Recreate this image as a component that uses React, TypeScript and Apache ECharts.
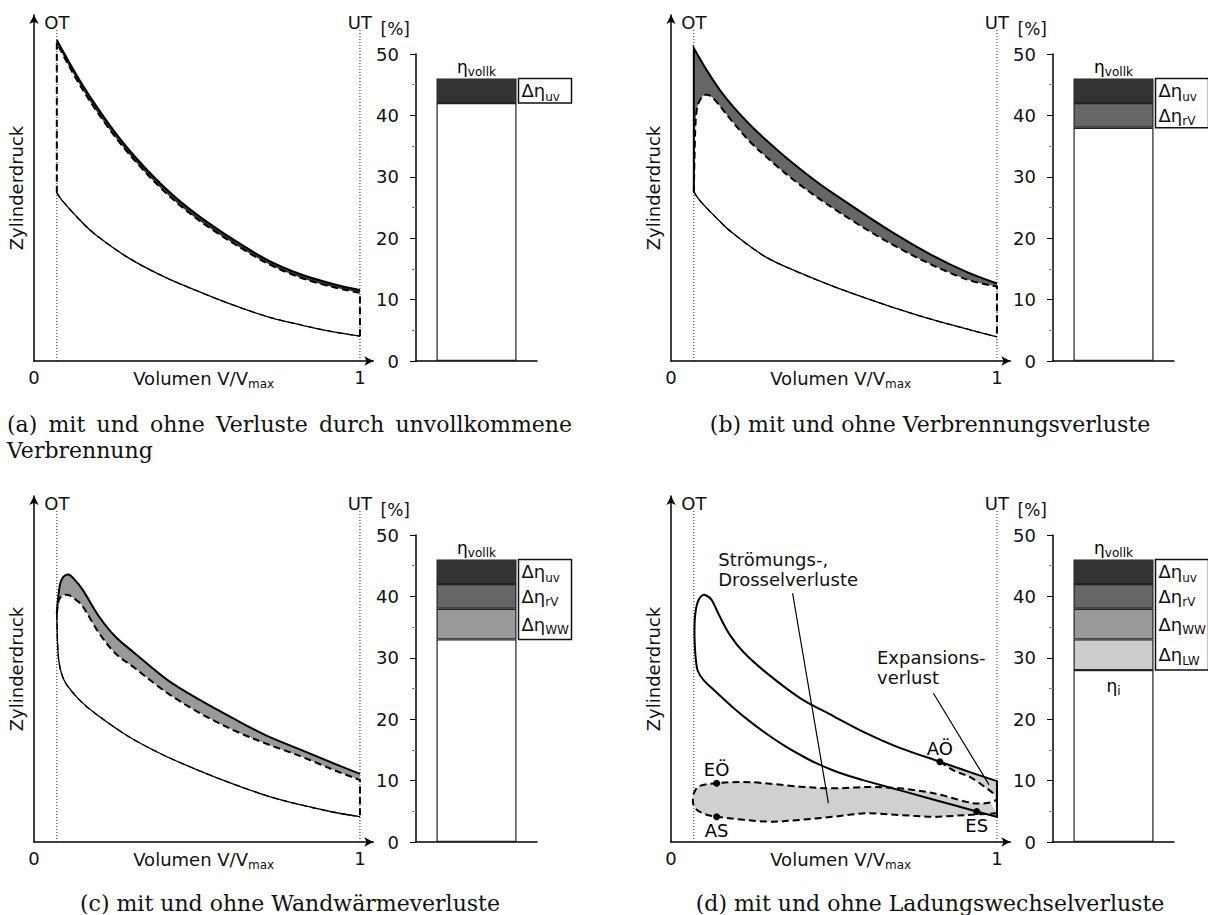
import React, { useEffect, useRef } from 'react';
import * as echarts from 'echarts';

// ---------------- shared ----------------
const FONT = '"DejaVu Sans", Verdana, sans-serif';
const SERIF = '"DejaVu Serif", serif';
const V_OT = 0.07;
const V_UT = 1.0;
const GUIDE_TOP = 96.2;

// ---------------- (a) unvollkommene Verbrennung ----------------
const aCompV = [0.07, 0.09, 0.14, 0.19, 0.29, 0.40, 0.51, 0.61, 0.72, 0.82, 0.92, 1.0];
const aCompP = [48.6, 46.0, 40.8, 36.4, 29.8, 24.3, 19.9, 16.2, 12.7, 10.4, 8.4, 7.2];
const aExpV = [0.07, 0.11, 0.15, 0.19, 0.24, 0.29, 0.35, 0.40, 0.45, 0.51, 0.61, 0.72, 0.82, 0.92, 1.0];
const aExpP = [92.8, 86.0, 79.6, 73.8, 67.2, 61.2, 54.9, 50.2, 46.0, 41.6, 35.2, 29.0, 25.0, 22.2, 20.5];
const aExpLossP = [91.9, 84.8, 78.3, 72.5, 65.9, 60.0, 53.7, 49.0, 44.8, 40.4, 34.1, 28.0, 24.0, 21.3, 19.7];

// ---------------- (b) Verbrennungsverluste ----------------
const bCompV = [0.07, 0.09, 0.14, 0.19, 0.29, 0.40, 0.50, 0.60, 0.70, 0.80, 0.91, 1.0];
const bCompP = [48.9, 46.2, 41.3, 36.9, 30.1, 25.3, 21.5, 18.1, 14.9, 12.0, 9.2, 7.0];
const bExpV = [0.07, 0.11, 0.15, 0.19, 0.24, 0.29, 0.35, 0.40, 0.45, 0.50, 0.60, 0.70, 0.80, 0.91, 1.0];
const bExpP = [90.4, 84.0, 78.3, 73.6, 68.5, 64.0, 59.0, 55.2, 51.6, 48.3, 42.0, 36.0, 30.6, 25.6, 22.4];
const bBurnV = [0.07, 0.074, 0.079, 0.089, 0.104, 0.13, 0.19, 0.24, 0.29, 0.35, 0.40, 0.45, 0.50, 0.60, 0.70, 0.80, 0.91, 1.0];
const bBurnP = [48.9, 65.9, 72.5, 75.4, 76.9, 75.9, 69.0, 63.6, 59.2, 54.3, 50.6, 47.2, 44.0, 38.0, 32.6, 27.8, 23.5, 21.5];

// ---------------- (c) Wandwärmeverluste ----------------
const cCompV = [0.07, 0.072, 0.076, 0.085, 0.10, 0.14, 0.19, 0.29, 0.40, 0.51, 0.61, 0.72, 0.82, 0.92, 1.0];
const cCompP = [66.0, 58.0, 52.5, 48.5, 45.5, 41.0, 37.0, 30.5, 25.0, 20.5, 16.8, 13.2, 10.7, 8.6, 7.3];
const cExpV = [0.07, 0.074, 0.08, 0.09, 0.105, 0.12, 0.15, 0.20, 0.25, 0.31, 0.41, 0.51, 0.61, 0.71, 0.82, 0.92, 1.0];
const cExpP = [66.0, 70.5, 74.5, 76.6, 77.3, 76.3, 72.8, 65.1, 59.3, 54.5, 46.8, 41.0, 35.8, 30.9, 26.6, 22.7, 19.7];
const cWallV = [0.07, 0.073, 0.078, 0.09, 0.105, 0.12, 0.15, 0.20, 0.25, 0.31, 0.41, 0.51, 0.61, 0.71, 0.82, 0.92, 1.0];
const cWallP = [66.0, 68.5, 70.3, 71.3, 71.4, 70.6, 68.0, 60.3, 54.5, 50.2, 43.0, 37.2, 32.4, 28.5, 24.7, 20.8, 17.9];

// ---------------- (d) Ladungswechselverluste ----------------
const dLoopV = [1.0, 0.938, 0.804, 0.70, 0.60, 0.549, 0.50, 0.447, 0.40, 0.345, 0.294, 0.24, 0.19, 0.14, 0.10, 0.082, 0.076, 0.073, 0.072, 0.074, 0.080, 0.090, 0.104, 0.125, 0.150, 0.181, 0.222, 0.294, 0.396, 0.498, 0.600, 0.702, 0.825, 0.917, 1.0];
const dLoopP = [7.3, 8.8, 12.3, 15.0, 17.6, 19.0, 20.6, 22.7, 25.0, 28.0, 31.2, 35.0, 38.9, 43.2, 46.8, 49.5, 53.0, 57.0, 61.0, 65.5, 68.8, 70.8, 71.4, 69.9, 65.1, 59.8, 54.9, 48.8, 41.6, 36.4, 31.4, 27.2, 23.2, 20.2, 17.6];
const dExpLossV = [0.825, 0.871, 0.917, 0.963, 0.994, 1.0];
const dExpLossP = [23.2, 20.5, 18.8, 15.9, 13.6, 12.4];
const dExhaustV = [0.979, 0.943, 0.907, 0.805, 0.702, 0.600, 0.498, 0.396, 0.242, 0.140, 0.089, 0.0706, 0.067];
const dExhaustP = [11.4, 11.1, 11.6, 14.1, 15.5, 15.9, 15.5, 16.0, 17.3, 17.0, 16.2, 14.2, 12.1];
const dIntakeV = [0.0706, 0.089, 0.140, 0.294, 0.396, 0.498, 0.600, 0.702, 0.805, 0.907, 1.0];
const dIntakeP = [10.4, 8.7, 7.3, 5.9, 6.4, 7.3, 8.3, 7.8, 7.3, 7.8, 8.3];
const dMarkV = [0.140, 0.140, 0.825, 0.938];
const dMarkP = [17.0, 7.3, 23.2, 8.8];
const dMarkNames = ['EÖ', 'AS', 'AÖ', 'ES'];
const dMarkLabelPos = ['top', 'bottom', 'top', 'bottom'];
const dFlowText = ['Strömungs-,', 'Drosselverluste'];
const dFlowTextAt = [0.145, 84.4];
const dFlowArrow = [[0.373, 71.9], [0.483, 11.2]];
const dExpText = ['Expansions-', 'verlust'];
const dExpTextAt = [0.632, 56.1];
const dExpArrow = [[0.805, 43.0], [0.976, 16.5]];

// ---------------- bars: Wirkungsgrade [%] ----------------
const etaI = [42, 38, 33, 28];
const dEtaUV = [4, 4, 4, 4];
const dEtaRV = [null, 4, 4, 4];
const dEtaWW = [null, null, 5, 5];
const dEtaLW = [null, null, null, 5];
const lossKeys = ['LW', 'WW', 'rV', 'uv'];
const lossColors = ['#cccccc', '#999999', '#666666', '#333333'];

const captionA1 = '(a) mit und ohne Verluste durch unvollkommene';
const captionA2 = 'Verbrennung';
const captionB = '(b) mit und ohne Verbrennungsverluste';
const captionC = '(c) mit und ohne Wandwärmeverluste';
const captionD = '(d) mit und ohne Ladungswechselverluste';

// ---------------- layout ----------------
const PV_GRIDS = [
  { left: 34, top: 15 }, { left: 671, top: 15 }, { left: 34, top: 496 }, { left: 671, top: 496 },
];
const BAR_GRIDS = [
  { left: 416, top: 54 }, { left: 1053, top: 54 }, { left: 416, top: 535 }, { left: 1053, top: 535 },
];

type Piece = { pts: number[][]; smooth: boolean };
type Shape = { pieces: Piece[]; closed?: boolean; style: any };

const zip = (v: number[], p: number[]) => v.map((x, i) => [x, p[i]]);
const rev = (a: number[][]) => a.slice().reverse();
const fmt = (pt: number[]) => pt[0].toFixed(2) + ',' + pt[1].toFixed(2);

function buildPath(pieces: Piece[], closed: boolean): string {
  let d = '';
  pieces.forEach((pc, k) => {
    const p = pc.pts;
    if (!p.length) return;
    d += (k === 0 ? 'M' : 'L') + fmt(p[0]);
    if (pc.smooth && p.length > 2) {
      for (let i = 0; i < p.length - 1; i++) {
        const p0 = p[Math.max(i - 1, 0)], p1 = p[i], p2 = p[i + 1], p3 = p[Math.min(i + 2, p.length - 1)];
        const c1 = [p1[0] + (p2[0] - p0[0]) / 6, p1[1] + (p2[1] - p0[1]) / 6];
        const c2 = [p2[0] - (p3[0] - p1[0]) / 6, p2[1] - (p3[1] - p1[1]) / 6];
        d += 'C' + fmt(c1) + ' ' + fmt(c2) + ' ' + fmt(p2);
      }
    } else {
      for (let i = 1; i < p.length; i++) d += 'L' + fmt(p[i]);
    }
  });
  if (closed) d += 'Z';
  return d;
}

const SOLID = { fill: 'none', stroke: '#000', lineWidth: 2 };
const DASH = { fill: 'none', stroke: '#000', lineWidth: 2, lineDash: [7, 4] };
const THIN = { fill: 'none', stroke: '#000', lineWidth: 1.3 };
const THIN_DASH = { fill: 'none', stroke: '#000', lineWidth: 1.3, lineDash: [6, 4] };
const GUIDE = { fill: 'none', stroke: '#222', lineWidth: 1, lineDash: [1, 2] };

function textEl(x: number, y: number, text: string, extra: any = {}) {
  return {
    type: 'text', x, y,
    style: {
      text, fill: '#111', font: `18px ${FONT}`,
      align: 'center', verticalAlign: 'middle', textAlign: 'center', textVerticalAlign: 'middle',
      ...extra,
    },
  };
}

function pvSeries(idx: number, shapes: Shape[], notes: { at: number[]; lines: string[] }[] = []) {
  return {
    type: 'custom',
    coordinateSystem: 'cartesian2d',
    xAxisIndex: idx,
    yAxisIndex: idx,
    data: [[V_OT, 0]],
    clip: false,
    silent: true,
    z: 2,
    renderItem: (_params: any, api: any) => {
      const px = (pts: number[][]) => pts.map((q) => api.coord(q));
      const guides: Shape[] = [
        { pieces: [{ pts: [[V_OT, 0], [V_OT, GUIDE_TOP]], smooth: false }], style: GUIDE },
        { pieces: [{ pts: [[V_UT, 0], [V_UT, GUIDE_TOP]], smooth: false }], style: GUIDE },
      ];
      const children: any[] = [...guides, ...shapes].map((s) => ({
        type: 'path',
        shape: { pathData: buildPath(s.pieces.map((pc) => ({ pts: px(pc.pts), smooth: pc.smooth })), !!s.closed) },
        style: s.style,
      }));
      const ot = api.coord([V_OT, GUIDE_TOP]);
      const ut = api.coord([V_UT, GUIDE_TOP]);
      children.push(textEl(ot[0], ot[1] - 6, 'OT'));
      children.push(textEl(ut[0], ut[1] - 6, 'UT'));
      notes.forEach((n) => {
        const c = api.coord(n.at);
        children.push({
          type: 'text', x: c[0], y: c[1],
          style: {
            text: n.lines.join('\n'), fill: '#111', font: `18px ${FONT}`, lineHeight: 20,
            align: 'left', verticalAlign: 'top', textAlign: 'left', textVerticalAlign: 'top',
          },
        });
      });
      return { type: 'group', children };
    },
  };
}

function buildOption() {
  const shapesA: Shape[] = [
    {
      pieces: [{ pts: zip(aExpV, aExpP), smooth: true }, { pts: rev(zip(aExpV, aExpLossP)), smooth: true }],
      closed: true, style: { fill: '#333333', stroke: 'none' },
    },
    { pieces: [{ pts: zip(aCompV, aCompP), smooth: true }], style: THIN },
    { pieces: [{ pts: zip(aCompV, aCompP), smooth: true }], style: THIN_DASH },
    { pieces: [{ pts: zip(aExpV, aExpP), smooth: true }], style: SOLID },
    {
      pieces: [
        { pts: [[V_OT, aCompP[0]], [V_OT, aExpLossP[0]]], smooth: false },
        { pts: zip(aExpV, aExpLossP), smooth: true },
        { pts: [[V_UT, aExpLossP[aExpLossP.length - 1]], [V_UT, aCompP[aCompP.length - 1]]], smooth: false },
      ],
      style: DASH,
    },
  ];

  const shapesB: Shape[] = [
    {
      pieces: [
        { pts: [[V_OT, bCompP[0]], [V_OT, bExpP[0]]], smooth: false },
        { pts: zip(bExpV, bExpP), smooth: true },
        { pts: rev(zip(bBurnV, bBurnP)), smooth: true },
      ],
      closed: true, style: { fill: '#666666', stroke: 'none' },
    },
    { pieces: [{ pts: zip(bCompV, bCompP), smooth: true }], style: THIN },
    { pieces: [{ pts: zip(bCompV, bCompP), smooth: true }], style: THIN_DASH },
    {
      pieces: [
        { pts: [[V_OT, bCompP[0]], [V_OT, bExpP[0]]], smooth: false },
        { pts: zip(bExpV, bExpP), smooth: true },
      ],
      style: SOLID,
    },
    {
      pieces: [
        { pts: zip(bBurnV, bBurnP), smooth: true },
        { pts: [[V_UT, bBurnP[bBurnP.length - 1]], [V_UT, bCompP[bCompP.length - 1]]], smooth: false },
      ],
      style: DASH,
    },
  ];

  const shapesC: Shape[] = [
    {
      pieces: [{ pts: zip(cExpV, cExpP), smooth: true }, { pts: rev(zip(cWallV, cWallP)), smooth: true }],
      closed: true, style: { fill: '#999999', stroke: 'none' },
    },
    { pieces: [{ pts: zip(cCompV, cCompP), smooth: true }], style: THIN },
    { pieces: [{ pts: zip(cCompV, cCompP), smooth: true }], style: THIN_DASH },
    { pieces: [{ pts: zip(cExpV, cExpP), smooth: true }], style: SOLID },
    {
      pieces: [
        { pts: zip(cWallV, cWallP), smooth: true },
        { pts: [[V_UT, cWallP[cWallP.length - 1]], [V_UT, cCompP[cCompP.length - 1]]], smooth: false },
      ],
      style: DASH,
    },
  ];

  const aoIdx = dLoopV.lastIndexOf(dMarkV[2]);
  const dLoop = zip(dLoopV, dLoopP);
  const dExpLoss = zip(dExpLossV, dExpLossP);
  const dExhaust = zip(dExhaustV, dExhaustP);
  const dIntake = zip(dIntakeV, dIntakeP);
  const shapesD: Shape[] = [
    { pieces: [{ pts: [...dExhaust, ...dIntake], smooth: true }], closed: true, style: { fill: '#d0d0d0', stroke: 'none' } },
    {
      pieces: [{ pts: dLoop.slice(aoIdx), smooth: true }, { pts: rev(dExpLoss), smooth: true }],
      closed: true, style: { fill: '#d0d0d0', stroke: 'none' },
    },
    { pieces: [{ pts: dLoop, smooth: true }], closed: true, style: SOLID },
    { pieces: [{ pts: [...dExpLoss, ...dExhaust, ...dIntake], smooth: true }], style: DASH },
    { pieces: [{ pts: dFlowArrow, smooth: false }], style: { fill: 'none', stroke: '#000', lineWidth: 1.2 } },
    { pieces: [{ pts: dExpArrow, smooth: false }], style: { fill: 'none', stroke: '#000', lineWidth: 1.2 } },
  ];

  const grids: any[] = [];
  const xAxes: any[] = [];
  const yAxes: any[] = [];
  const series: any[] = [];
  const axisLineStyle = { color: '#000', width: 1.5 };

  PV_GRIDS.forEach((g, i) => {
    grids.push({ left: g.left, top: g.top, width: 339.3, height: 346, containLabel: false, outerBoundsMode: 'none' });
    xAxes.push({
      type: 'value', gridIndex: i, min: 0, max: 1.041, interval: 1,
      axisLine: { show: true, onZero: false, symbol: ['none', 'arrow'], symbolSize: [7, 9], lineStyle: axisLineStyle },
      axisTick: { show: false }, splitLine: { show: false },
      axisLabel: {
        fontSize: 18, fontFamily: FONT, color: '#111', margin: 7,
        formatter: (v: number) => (v === 0 || v === 1 ? String(v) : ''),
      },
      name: '{n|Volumen V/V}{s|max}', nameLocation: 'middle', nameGap: 5, nameMoveOverlap: false,
      nameTextStyle: {
        rich: {
          n: { fontSize: 18, fontFamily: FONT, color: '#111', lineHeight: 24 },
          s: { fontSize: 12, fontFamily: FONT, color: '#111', lineHeight: 10, verticalAlign: 'bottom' },
        },
      },
    });
    yAxes.push({
      type: 'value', gridIndex: i, min: 0, max: 100,
      axisLine: { show: true, onZero: false, symbol: ['none', 'arrow'], symbolSize: [7, 9], lineStyle: axisLineStyle },
      axisTick: { show: false }, axisLabel: { show: false }, splitLine: { show: false },
      name: 'Zylinderdruck', nameLocation: 'middle', nameGap: 9, nameRotate: 90, nameMoveOverlap: false,
      nameTextStyle: { fontSize: 18, fontFamily: FONT, color: '#111' },
    });
  });

  BAR_GRIDS.forEach((g, i) => {
    const gi = 4 + i;
    grids.push({ left: g.left, top: g.top, width: 121, height: 307, containLabel: false, outerBoundsMode: 'none' });
    xAxes.push({
      type: 'category', gridIndex: gi, data: ['η'],
      axisLine: { show: true, lineStyle: axisLineStyle },
      axisTick: { show: false }, axisLabel: { show: false }, splitLine: { show: false },
    });
    yAxes.push({
      type: 'value', gridIndex: gi, min: 0, max: 50, interval: 10,
      axisLine: { show: true, lineStyle: axisLineStyle },
      axisTick: { show: true, length: 6, lineStyle: { color: '#000', width: 1 } },
      minorTick: { show: true, splitNumber: 2, length: 4, lineStyle: { color: '#888', width: 1 } },
      axisLabel: { fontSize: 18, fontFamily: FONT, color: '#111', margin: 17 },
      splitLine: { show: false },
      name: '[%]', nameLocation: 'end', nameGap: 17, nameMoveOverlap: false,
      nameTextStyle: { fontSize: 17, fontFamily: FONT, color: '#111', align: 'right', padding: [0, 6, 0, 0] },
    });
  });

  const pvShapes = [shapesA, shapesB, shapesC, shapesD];
  pvShapes.forEach((s, i) => {
    const notes = i === 3 ? [{ at: dFlowTextAt, lines: dFlowText }, { at: dExpTextAt, lines: dExpText }] : [];
    series.push(pvSeries(i, s, notes));
  });

  series.push({
    type: 'scatter', xAxisIndex: 3, yAxisIndex: 3, symbolSize: 7, z: 5, silent: true,
    itemStyle: { color: '#000', opacity: 1 },
    label: {
      show: true, formatter: '{b}', fontSize: 18, fontFamily: FONT, color: '#000',
      textBorderWidth: 0, opacity: 1, distance: 1,
    },
    data: dMarkV.map((v, k) => ({ value: [v, dMarkP[k]], name: dMarkNames[k], label: { position: dMarkLabelPos[k] } })),
  });

  const lossData = [dEtaLW, dEtaWW, dEtaRV, dEtaUV];
  const labelRich = {
    a: { fontSize: 18, fontFamily: FONT, color: '#111', lineHeight: 24 },
    b: { fontSize: 12, fontFamily: FONT, color: '#111', lineHeight: 10, verticalAlign: 'bottom' },
  };
  for (let i = 0; i < 4; i++) {
    const gi = 4 + i;
    series.push({
      type: 'bar', xAxisIndex: gi, yAxisIndex: gi, stack: 's' + i, barWidth: 80, silent: true,
      name: 'ηi', data: [etaI[i]],
      itemStyle: { color: '#ffffff', borderColor: '#222', borderWidth: 1.2 },
    });
    lossData.forEach((arr, k) => {
      const v = arr[i];
      if (v == null) return;
      series.push({
        type: 'bar', xAxisIndex: gi, yAxisIndex: gi, stack: 's' + i, barWidth: 80, silent: true,
        name: lossKeys[k], data: [v],
        itemStyle: { color: lossColors[k], borderColor: '#222', borderWidth: 1.2 },
        label: {
          show: true, position: 'right', distance: 5,
          formatter: `{a|Δη}{b|${lossKeys[k]}}`, rich: labelRich,
        },
      });
    });
    const total = etaI[i] + [dEtaUV, dEtaRV, dEtaWW, dEtaLW].reduce((s, a) => s + (a[i] || 0), 0);
    const showEtaI = i === 3;
    series.push({
      type: 'custom', coordinateSystem: 'cartesian2d', xAxisIndex: gi, yAxisIndex: gi,
      data: [[0, total, etaI[i]]], clip: false, silent: true, z: 4,
      renderItem: (_p: any, api: any) => {
        const top = api.coord([0, api.value(1)]);
        const bot = api.coord([0, api.value(2)]);
        const cx = top[0];
        const richEta = {
          a: { fontSize: 17, fontFamily: FONT, color: '#111', lineHeight: 22 },
          b: { fontSize: 12, fontFamily: FONT, color: '#111', lineHeight: 10, verticalAlign: 'bottom' },
        };
        const children: any[] = [
          {
            type: 'rect', shape: { x: cx + 42, y: top[1], width: 53, height: bot[1] - top[1] },
            style: { fill: 'none', stroke: '#111', lineWidth: 1.5 },
          },
          {
            type: 'text', x: cx, y: top[1] - 12,
            style: { text: '{a|η}{b|vollk}', rich: richEta, align: 'center', verticalAlign: 'middle', textAlign: 'center', textVerticalAlign: 'middle' },
          },
        ];
        if (showEtaI) {
          children.push({
            type: 'text', x: cx, y: bot[1] + 16,
            style: { text: '{a|η}{b|i}', rich: richEta, align: 'center', verticalAlign: 'middle', textAlign: 'center', textVerticalAlign: 'middle' },
          });
        }
        return { type: 'group', children };
      },
    });
  }

  // captions
  const capFont = `22px ${SERIF}`;
  const graphic: any[] = [];
  let widths: number[] = [];
  const words = captionA1.split(' ');
  try {
    const ctx = document.createElement('canvas').getContext('2d')!;
    ctx.font = capFont;
    widths = words.map((w) => ctx.measureText(w).width);
  } catch (e) {
    widths = words.map((w) => w.length * 12);
  }
  const lineLeft = 7, lineRight = 572;
  const gap = (lineRight - lineLeft - widths.reduce((s, w) => s + w, 0)) / (words.length - 1);
  const capStyle = (text: string, align: string) => ({
    text, font: capFont, fill: '#111', align, verticalAlign: 'middle', textAlign: align, textVerticalAlign: 'middle',
  });
  let xPos = lineLeft;
  words.forEach((w, k) => {
    graphic.push({ type: 'text', x: xPos, y: 424, style: capStyle(w, 'left') });
    xPos += widths[k] + gap;
  });
  graphic.push({ type: 'text', x: lineLeft, y: 450, style: capStyle(captionA2, 'left') });
  graphic.push({ type: 'text', x: 930, y: 424, style: capStyle(captionB, 'center') });
  graphic.push({ type: 'text', x: 290, y: 903, style: capStyle(captionC, 'center') });
  graphic.push({ type: 'text', x: 930, y: 903, style: capStyle(captionD, 'center') });

  return {
    animation: false,
    backgroundColor: '#ffffff',
    grid: grids,
    xAxis: xAxes,
    yAxis: yAxes,
    series,
    graphic,
  };
}

export default function App() {
  const ref = useRef<HTMLDivElement>(null);
  useEffect(() => {
    const chart = echarts.init(ref.current!, null, { renderer: 'svg', width: 1208, height: 915 });
    chart.setOption(buildOption() as any);
    return () => chart.dispose();
  }, []);
  return (
    <div
      ref={ref}
      style={{ position: 'absolute', left: 0, top: 0, width: 1208, height: 915, background: '#fff' }}
    />
  );
}
